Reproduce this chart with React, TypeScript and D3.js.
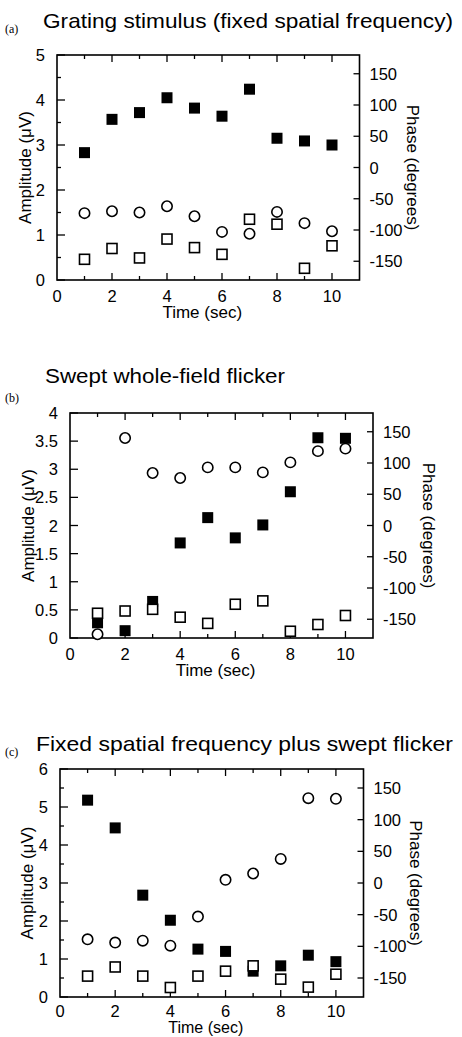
import React from 'react';
import * as d3 from 'd3';

// time points (sec), same for all three panels
const times = [1, 2, 3, 4, 5, 6, 7, 8, 9, 10];
const xTicks = [1, 2, 3, 4, 5, 6, 7, 8, 9, 10];
const xLabels = [0, 2, 4, 6, 8, 10];
const phaseTicks = [-150, -100, -50, 0, 50, 100, 150];

// (a) grating stimulus
const aAmplitude = [2.83, 3.57, 3.72, 4.05, 3.82, 3.64, 4.24, 3.15, 3.09, 3.0];
const aNoise = [0.46, 0.7, 0.49, 0.91, 0.72, 0.57, 1.35, 1.24, 0.26, 0.76];
const aPhase = [-73, -70, -72, -62, -78, -103, -106, -71, -89, -102];

// (b) swept whole-field flicker
const bAmplitude = [0.27, 0.13, 0.65, 1.69, 2.14, 1.78, 2.01, 2.6, 3.56, 3.55];
const bNoise = [0.44, 0.48, 0.51, 0.37, 0.26, 0.6, 0.66, 0.12, 0.24, 0.4];
const bPhase = [-174, 140, 84, 76, 93, 93, 85, 101, 119, 123];

// (c) fixed spatial frequency plus swept flicker
const cAmplitude = [5.18, 4.45, 2.68, 2.02, 1.26, 1.2, 0.68, 0.82, 1.1, 0.93];
const cNoise = [0.55, 0.79, 0.55, 0.25, 0.55, 0.68, 0.82, 0.47, 0.26, 0.6];
const cPhase = [-89, -94, -91, -99, -53, 5, 15, 38, 134, 133];

const FONT = '"Liberation Sans", Arial, Helvetica, sans-serif';

type PanelProps = {
  tag: string;
  title: string;
  titleX: number;
  titleY: number;
  tagY: number;
  titleLen: number;
  left: number;
  right: number;
  top: number;
  bottom: number;
  ampMax: number;
  ampLabels: number[];
  ampMinor: number[];
  amplitude: number[];
  noise: number[];
  phase: number[];
  ampLabelX: number;
  phaseLabelX: number;
  tickDy: number;
  timeDy: number;
  timeSize: number;
};

function Panel(p: PanelProps) {
  const x = d3.scaleLinear().domain([0, 11]).range([p.left, p.right]);
  const y = d3.scaleLinear().domain([0, p.ampMax]).range([p.bottom, p.top]);
  const yPh = d3.scaleLinear().domain([-180, 180]).range([p.bottom, p.top]);
  const midY = (p.top + p.bottom) / 2;
  const fs = 5.5;
  const os = 5;
  const r = 5.2;

  return (
    <g fontFamily={FONT} fill="#000">
      <text x={5} y={p.tagY} fontFamily='"Liberation Serif", "Times New Roman", serif' fontSize={12}>
        {p.tag}
      </text>
      <text x={p.titleX} y={p.titleY} fontSize={21} textLength={p.titleLen} lengthAdjust="spacingAndGlyphs">
        {p.title}
      </text>

      {/* x ticks on bottom and top, pointing inward */}
      {xTicks.map(t => {
        const len = t % 2 === 0 ? 7 : 4;
        return (
          <g key={'xt' + t} stroke="#000" strokeWidth={1.3}>
            <line x1={x(t)} x2={x(t)} y1={p.bottom} y2={p.bottom - len} />
            <line x1={x(t)} x2={x(t)} y1={p.top} y2={p.top + len} />
          </g>
        );
      })}
      {xLabels.map(t => (
        <text key={'xl' + t} x={x(t)} y={p.bottom + p.tickDy} fontSize={16.5} textAnchor="middle">
          {t}
        </text>
      ))}

      {/* amplitude axis (left) */}
      {p.ampLabels.map(t => (
        <g key={'yl' + t}>
          <line x1={p.left} x2={p.left + 8} y1={y(t)} y2={y(t)} stroke="#000" strokeWidth={1.3} />
          <text x={p.left - 12} y={y(t)} fontSize={16.5} textAnchor="end" dominantBaseline="central">
            {t}
          </text>
        </g>
      ))}
      {p.ampMinor.map(t => (
        <line key={'ym' + t} x1={p.left} x2={p.left + 4} y1={y(t)} y2={y(t)} stroke="#000" strokeWidth={1.3} />
      ))}

      {/* phase axis (right) */}
      {phaseTicks.map(t => (
        <g key={'pl' + t}>
          <line x1={p.right} x2={p.right - 6} y1={yPh(t)} y2={yPh(t)} stroke="#000" strokeWidth={1.3} />
          <text x={p.right + 10} y={yPh(t)} fontSize={16.5} dominantBaseline="central">
            {t}
          </text>
        </g>
      ))}

      <rect
        x={p.left}
        y={p.top}
        width={p.right - p.left}
        height={p.bottom - p.top}
        fill="none"
        stroke="#000"
        strokeWidth={1.6}
      />

      <text x={(p.left + p.right) / 2 - 6} y={p.bottom + p.timeDy} fontSize={p.timeSize} textAnchor="middle">
        Time (sec)
      </text>
      <text
        transform={`translate(${p.ampLabelX},${midY}) rotate(-90)`}
        fontSize={17}
        textAnchor="middle"
        dominantBaseline="central"
      >
        Amplitude (μV)
      </text>
      <text
        transform={`translate(${p.phaseLabelX},${midY}) rotate(90)`}
        fontSize={17}
        textAnchor="middle"
        dominantBaseline="central"
      >
        Phase (degrees)
      </text>

      {/* filled squares: response amplitude */}
      {times.map((t, i) => (
        <rect key={'f' + t} x={x(t) - fs} y={y(p.amplitude[i]) - fs} width={fs * 2} height={fs * 2} fill="#000" />
      ))}
      {/* open squares: noise amplitude */}
      {times.map((t, i) => (
        <rect
          key={'n' + t}
          x={x(t) - os}
          y={y(p.noise[i]) - os}
          width={os * 2}
          height={os * 2}
          fill="#fff"
          stroke="#000"
          strokeWidth={1.6}
        />
      ))}
      {/* open circles: phase */}
      {times.map((t, i) => (
        <circle key={'p' + t} cx={x(t)} cy={yPh(p.phase[i])} r={r} fill="#fff" stroke="#000" strokeWidth={1.6} />
      ))}
    </g>
  );
}

export default function App() {
  return (
    <svg
      width={462}
      height={1037}
      style={{ position: 'absolute', left: 0, top: 0, background: '#fff' }}
    >
      <rect width={462} height={1037} fill="#fff" />
      <Panel
        tag="(a)"
        title="Grating stimulus (fixed spatial frequency)"
        titleX={43}
        titleY={28}
        tagY={33}
        titleLen={410}
        left={57}
        right={359.5}
        top={55}
        bottom={280}
        ampMax={5}
        ampLabels={[0, 1, 2, 3, 4, 5]}
        ampMinor={[0.5, 1.5, 2.5, 3.5, 4.5]}
        amplitude={aAmplitude}
        noise={aNoise}
        phase={aPhase}
        ampLabelX={25}
        phaseLabelX={412}
        tickDy={22}
        timeDy={38}
        timeSize={17}
      />
      <Panel
        tag="(b)"
        title="Swept whole-field flicker"
        titleX={45}
        titleY={383}
        tagY={402}
        titleLen={240}
        left={70}
        right={373}
        top={413}
        bottom={638}
        ampMax={4}
        ampLabels={[0, 0.5, 1, 1.5, 2, 2.5, 3, 3.5, 4]}
        ampMinor={[]}
        amplitude={bAmplitude}
        noise={bNoise}
        phase={bPhase}
        ampLabelX={28}
        phaseLabelX={428}
        tickDy={22}
        timeDy={38}
        timeSize={17}
      />
      <Panel
        tag="(c)"
        title="Fixed spatial frequency plus swept flicker"
        titleX={36}
        titleY={751}
        tagY={756}
        titleLen={417}
        left={60}
        right={363.5}
        top={769}
        bottom={997}
        ampMax={6}
        ampLabels={[0, 1, 2, 3, 4, 5, 6]}
        ampMinor={[0.5, 1.5, 2.5, 3.5, 4.5, 5.5]}
        amplitude={cAmplitude}
        noise={cNoise}
        phase={cPhase}
        ampLabelX={27}
        phaseLabelX={415}
        tickDy={20}
        timeDy={36}
        timeSize={16}
      />
    </svg>
  );
}
